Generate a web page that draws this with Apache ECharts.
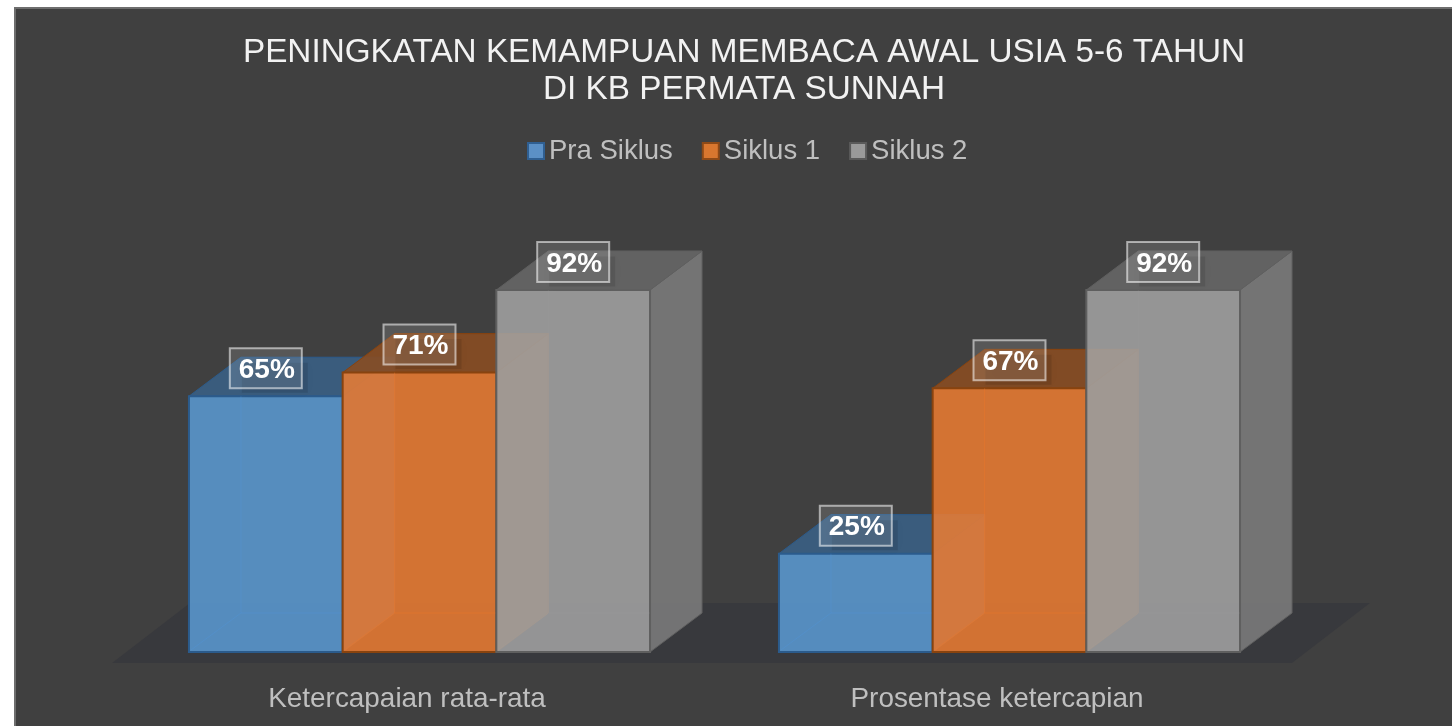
<!DOCTYPE html>
<html>
<head>
<meta charset="utf-8">
<title>Peningkatan Kemampuan Membaca Awal</title>
<script src="https://cdn.jsdelivr.net/npm/echarts@6/dist/echarts.min.js"></script>
<style>
  html, body { margin: 0; padding: 0; background: #fff; overflow: hidden; }
  #main { width: 1452px; height: 726px; }
</style>
</head>
<body>
<div id="main"></div>
<script>
// data
const categories = ["Ketercapaian rata-rata", "Prosentase ketercapian"];
const seriesNames = ["Pra Siklus", "Siklus 1", "Siklus 2"];
const praSiklus = [65, 25];
const siklus1 = [71, 67];
const siklus2 = [92, 92];

const FONT = '"Liberation Sans", Arial, sans-serif';
const DEPTH_X = 52, DEPTH_Y = 39; // oblique offset of the boxes
const SHIFT_X = 12.5;             // boxes sit a bit right of the band centre
const BAR_RATIO = 0.2605;

const palette = [
  { front: "rgba(91,155,213,.85)", side: "rgba(62,104,148,.85)", top: "rgba(58,98,136,.85)", edge: "#2b5b8c", inner: "rgba(80,150,225,.28)", legend: "#5b90c6", legendEdge: "#2f5f92" },
  { front: "rgba(237,125,49,.85)", side: "rgba(150,84,36,.85)", top: "rgba(136,76,34,.9)", edge: "#88430f", inner: "rgba(240,120,40,.4)", legend: "#d9772f", legendEdge: "#8e4a17" },
  { front: "rgba(165,165,165,.85)", side: "rgba(126,126,126,.85)", top: "rgba(104,104,104,.85)", edge: "#5f5f5f", inner: "rgba(170,170,170,.12)", legend: "#9a9a9a", legendEdge: "#5a5a5a" }
];

function renderBox(i, params, api) {
  const c = palette[i];
  const top = api.coord([api.value(0), api.value(1)]);
  const base = api.coord([api.value(0), 0]);
  const band = api.size([1, 0])[0];
  const w = band * BAR_RATIO;
  const x0 = top[0] + SHIFT_X - 1.5 * w + i * w;
  const x1 = x0 + w;
  const yt = top[1], yb = base[1];
  const edge = { stroke: c.edge, lineWidth: 2 };
  const line = (x1_, y1_, x2_, y2_) => ({
    type: "line",
    shape: { x1: x1_, y1: y1_, x2: x2_, y2: y2_ },
    style: { stroke: c.inner, lineWidth: 1, fill: null }
  });
  const cx = (x0 + x1) / 2, cy = yt - 27.5;
  return {
    type: "group",
    children: [
      { type: "polygon", shape: { points: [[x1, yt], [x1 + DEPTH_X, yt - DEPTH_Y], [x1 + DEPTH_X, yb - DEPTH_Y], [x1, yb]] },
        style: { fill: c.side, stroke: c.edge, lineWidth: 1 } },
      { type: "polygon", shape: { points: [[x0, yt], [x0 + DEPTH_X, yt - DEPTH_Y], [x1 + DEPTH_X, yt - DEPTH_Y], [x1, yt]] },
        style: { fill: c.top, stroke: c.edge, lineWidth: 1 } },
      { type: "rect", shape: { x: x0, y: yt, width: w, height: yb - yt },
        style: Object.assign({ fill: c.front }, edge) },
      line(x0 + DEPTH_X, yt, x0 + DEPTH_X, yb - DEPTH_Y),
      line(x0 + DEPTH_X, yb - DEPTH_Y, x1, yb - DEPTH_Y),
      line(x0 + 2, yb - 2, x0 + DEPTH_X, yb - DEPTH_Y),
      // soft shadow under the label box
      { type: "rect", shape: { x: cx - 24, y: cy - 6, width: 66, height: 30 },
        style: { fill: "rgba(0,0,0,.10)", shadowBlur: 14, shadowColor: "rgba(0,0,0,.2)" } },
      { type: "rect", shape: { x: cx - 36, y: cy - 20.5, width: 72, height: 40 },
        style: { fill: "rgba(255,255,255,.12)", stroke: "rgba(255,255,255,.55)", lineWidth: 2 } },
      { type: "text", x: cx + 1, y: cy + 1.5,
        style: { text: api.value(1) + "%", fill: "#fff", font: "bold 28px " + FONT, align: "center", verticalAlign: "middle" } }
    ]
  };
}

function renderFloor(params) {
  const s = params.coordSys;
  const b = s.y + s.height + 11;
  return {
    type: "polygon",
    shape: { points: [[s.x, b], [s.x + s.width, b], [s.x + s.width + 78, b - 60], [s.x + 78, b - 60]] },
    style: { fill: "#38393d" }
  };
}

const values = [praSiklus, siklus1, siklus2];

const option = {
  animation: false,
  graphic: [{
    type: "rect", z: -10, silent: true,
    shape: { x: 15, y: 8, width: 1460, height: 740 },
    style: { fill: "#404040", stroke: "#6e6e6e", lineWidth: 2 }
  }],
  title: {
    text: "PENINGKATAN KEMAMPUAN MEMBACA AWAL USIA 5-6 TAHUN\nDI KB PERMATA SUNNAH",
    left: 739, top: 29, textAlign: "center",
    textStyle: { color: "#f2f2f2", fontFamily: FONT, fontWeight: "normal", fontSize: 33.3, lineHeight: 37.5 }
  },
  legend: {
    left: 522, top: 132,
    itemWidth: 16, itemHeight: 16, itemGap: 29,
    textStyle: { color: "#bfbfbf", fontFamily: FONT, fontSize: 27.5 },
    data: seriesNames.map((n, i) => ({
      name: n, icon: "rect",
      itemStyle: { color: palette[i].legend, borderColor: palette[i].legendEdge, borderWidth: 2 }
    }))
  },
  grid: { left: 112, top: 258.5, width: 1180, height: 393.5 },
  xAxis: {
    type: "category",
    data: categories,
    axisLine: { show: false },
    axisTick: { show: false },
    axisLabel: { color: "#bfbfbf", fontFamily: FONT, fontSize: 27.9, margin: 33 }
  },
  yAxis: { type: "value", min: 0, max: 100, show: false },
  series: [
    { type: "custom", name: "lantai", silent: true, data: [[0, 0]], renderItem: renderFloor, encode: { x: 0, y: 1 } }
  ].concat(seriesNames.map((n, i) => ({
    type: "custom",
    name: n,
    data: values[i].map((v, k) => [k, v]),
    encode: { x: 0, y: 1 },
    renderItem: (params, api) => renderBox(i, params, api)
  })))
};

const myChart = echarts.init(document.getElementById("main"));
myChart.setOption(option);
</script>
</body>
</html>
